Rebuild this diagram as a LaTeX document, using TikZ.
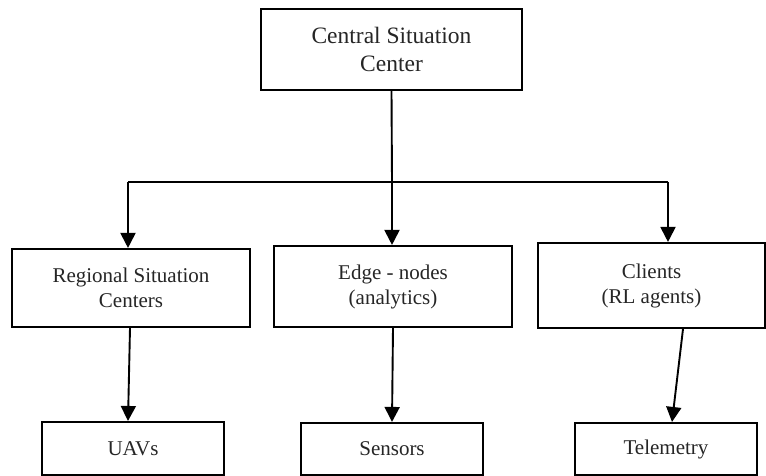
\documentclass[tikz,border=0pt]{standalone}
\usepackage{fontspec}
\setmainfont{Liberation Serif}
\usetikzlibrary{arrows.meta}

\begin{document}
\begin{tikzpicture}[x=1pt,y=-1pt,
  box/.style={draw=black, line width=2.1pt, fill=white, inner sep=0pt,
              align=center, text=black!85, font=\fontsize{21}{25}\selectfont},
  topbox/.style={box, font=\fontsize{23.5}{28}\selectfont},
  link/.style={draw=black, line width=1.9pt},
  arr/.style={link, -{Triangle[width=15pt,length=15pt]}}
]
\useasboundingbox (0,0) rectangle (766,476);

% top level
\node[topbox, minimum width=261pt, minimum height=81pt] (csc) at (391.5,49.5)
  {Central Situation\\Center};

% middle level
\node[box, minimum width=238pt, minimum height=78pt] (rsc) at (131,288)
  {Regional Situation\\Centers};
\node[box, minimum width=238pt, minimum height=81pt] (edge) at (393,286.5)
  {Edge - nodes\\(analytics)};
\node[box, minimum width=227pt, minimum height=85pt] (cli) at (651.5,285.5)
  {Clients\\(RL agents)};

% bottom level
\node[box, minimum width=182pt, minimum height=53pt] (uav) at (133,448.5) {UAVs};
\node[box, minimum width=182pt, minimum height=52pt] (sen) at (392,449) {Sensors};
\node[box, minimum width=182pt, minimum height=52pt] (tel) at (666,449) {Telemetry};

% distribution bus
\coordinate (bus)  at (392,182);
\coordinate (busL) at (128,182);
\coordinate (busR) at (668,182);

\draw[link] (csc.south) -- (bus);
\draw[link] (busL) -- (busR);
\draw[arr] (busL) -- (rsc.north -| busL);
\draw[arr] (bus) -- (edge.north -| bus);
\draw[arr] (busR) -- (cli.north -| busR);

% lower links
\draw[arr] ([xshift=-1pt]rsc.south) -- ([xshift=-5pt]uav.north);
\draw[arr] (edge.south) -- (sen.north);
\draw[arr] ([xshift=31.5pt]cli.south) -- ([xshift=6pt]tel.north);
\end{tikzpicture}
\end{document}
